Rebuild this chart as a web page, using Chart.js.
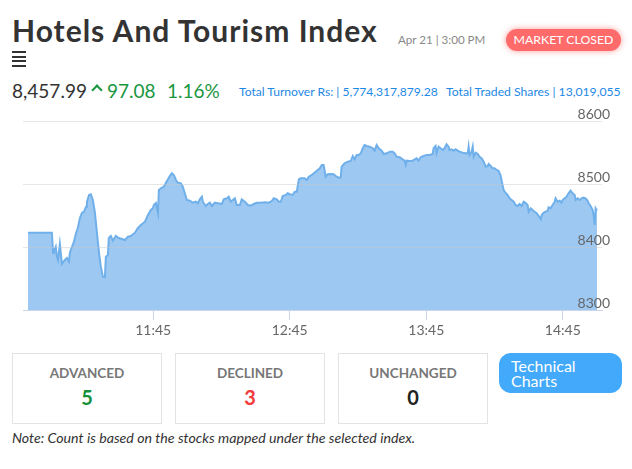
<!DOCTYPE html>
<html>
<head>
<meta charset="utf-8">
<script src="https://cdn.jsdelivr.net/npm/chart.js@4"></script>
<style>
  body { margin: 0; width: 632px; height: 469px; background: #fff; font-family: "Lato", sans-serif; position: relative; overflow: hidden; }
  .abs { position: absolute; white-space: nowrap; }
  #title { left: 12px; top: 14px; font-size: 30px; letter-spacing: 1px; line-height: 32px; font-weight: 700; color: #333; }
  #stamp { left: 398px; top: 33px; font-size: 11.6px; color: #888; }
  #status { left: 506px; top: 29px; width: 115px; height: 22px; line-height: 22px; border-radius: 11px; background: #ff6b6b; color: #fff; font-size: 12.3px; text-align: center; box-shadow: 0 0 6px rgba(255,90,90,0.6); }
  #menu { left: 12px; top: 51px; width: 14px; }
  #menu div { height: 2px; background: #333; margin-bottom: 2.5px; }
  #last { left: 12px; top: 79px; font-size: 19px; color: #333; }
  #chev { left: 93px; top: 86px; width: 6px; height: 6px; border-left: 2.5px solid #1a9641; border-top: 2.5px solid #1a9641; transform: rotate(45deg); }
  #chg { left: 107px; top: 79px; font-size: 19px; color: #1a9641; }
  #pct { left: 167px; top: 79px; font-size: 19px; color: #1a9641; }
  #turnover { left: 239px; top: 84px; font-size: 12.1px; color: #1e88e5; }
  #shares { left: 446px; top: 84px; font-size: 12.2px; color: #1e88e5; }
  #chartBox { left: 0; top: 100px; width: 632px; height: 245px; }
  .card { top: 353px; width: 150px; height: 71px; border: 1px solid #e3e3e3; box-sizing: border-box; text-align: center; }
  .card .lbl { margin-top: 11px; font-size: 13.5px; font-weight: 700; color: #777; }
  .card .num { margin-top: 4px; font-size: 20px; font-weight: 700; }
  #tech { left: 499px; top: 353px; width: 123px; height: 40px; border-radius: 12px; background: #42a9fb; color: #fff; font-size: 16px; line-height: 15px; box-sizing: border-box; padding: 5px 0 0 12px; white-space: normal; }
  #note { left: 12px; top: 429px; font-size: 14.2px; font-style: italic; color: #333; }
</style>
</head>
<body>
<div class="abs" id="title">Hotels And Tourism Index</div>
<div class="abs" id="stamp">Apr 21 | 3:00 PM</div>
<div class="abs" id="status">MARKET CLOSED</div>
<div class="abs" id="menu"><div></div><div></div><div></div><div></div></div>
<div class="abs" id="last">8,457.99</div>
<div class="abs" id="chev"></div>
<div class="abs" id="chg">97.08</div>
<div class="abs" id="pct">1.16%</div>
<div class="abs" id="turnover">Total Turnover Rs: | 5,774,317,879.28</div>
<div class="abs" id="shares">Total Traded Shares | 13,019,055</div>
<div class="abs" id="chartBox"><canvas id="lineChart" width="632" height="245"></canvas></div>
<div id="cards"></div>
<div class="abs" id="tech">Technical<br>Charts</div>
<div class="abs" id="note">Note: Count is based on the stocks mapped under the selected index.</div>

<script>
// minutes after 11:00 (negative = pre-open)
const tradeMinutes = [-10.0, 0.5, 1.0, 1.4, 2.2, 2.7, 3.2, 4.0, 4.9, 6.2, 7.1, 8.0, 8.4, 9.3, 10.2, 11.1, 11.9, 12.8, 13.7, 14.6,
  15.5, 15.9, 16.8, 17.6, 18.5, 19.4, 20.3, 21.2, 22.0, 22.9, 23.8, 24.2, 25.1, 25.5, 26.4, 27.3, 28.6, 29.9, 31.3, 32.6,
  33.9, 35.2, 37.0, 38.3, 39.6, 41.4, 42.7, 44.0, 44.9, 45.3, 46.2, 47.1, 47.5, 48.4, 49.7, 50.6, 51.5, 52.3, 53.2, 54.1,
  55.0, 55.8, 57.2, 58.0, 58.9, 59.8, 61.1, 62.4, 63.7, 64.6, 65.5, 66.4, 66.8, 68.1, 69.0, 69.9, 70.8, 72.1, 73.4, 75.2,
  76.0, 77.4, 78.2, 79.1, 80.0, 80.9, 81.7, 83.1, 83.9, 85.3, 86.6, 87.9, 89.2, 90.5, 92.3, 94.0, 95.8, 97.1, 98.0, 99.3,
  100.2, 101.1, 101.9, 103.3, 104.1, 105.0, 106.3, 107.2, 108.1, 109.0, 109.8, 111.6, 112.5, 113.4, 114.7, 115.6, 116.4, 117.3, 118.2, 119.1,
  119.9, 120.8, 121.7, 123.0, 124.3, 125.6, 126.5, 127.4, 127.8, 129.1, 130.5, 131.8, 132.7, 133.5, 134.4, 135.3, 136.2, 137.1, 137.9, 138.8,
  140.1, 141.5, 142.3, 143.2, 144.1, 145.4, 146.3, 147.6, 149.0, 150.3, 151.1, 152.0, 153.3, 154.6, 155.5, 156.0, 156.4, 157.7, 159.0, 159.9,
  160.8, 161.6, 162.5, 163.8, 165.2, 166.5, 167.8, 168.2, 169.1, 169.5, 170.4, 171.3, 172.2, 173.0, 173.9, 174.8, 175.2, 176.1, 177.0, 177.9,
  178.8, 179.6, 181.0, 182.3, 183.2, 183.6, 184.0, 184.9, 185.4, 185.8, 186.7, 187.6, 188.4, 189.3, 190.2, 191.1, 192.0, 192.4, 193.3, 194.1,
  195.0, 195.9, 196.8, 197.6, 198.5, 199.0, 199.8, 200.7, 201.6, 202.5, 203.4, 204.2, 205.1, 206.0, 206.9, 207.8, 208.6, 209.5, 210.0, 210.9,
  211.7, 212.6, 213.5, 214.8, 215.3, 215.7, 216.6, 217.5, 218.3, 218.7, 219.6, 220.5, 221.4, 221.8, 222.7, 223.6, 224.4, 224.9, 225.8, 226.6,
  227.5, 228.4, 229.3, 230.2, 230.6, 231.5, 232.4, 233.2, 234.1, 235.0, 235.9, 236.3, 237.2, 238.1, 238.5, 239.0, 239.4, 240.0];

const indexValues = [8422.7, 8422.7, 8390.5, 8393.7, 8400.5, 8384.6, 8379.4, 8404.8, 8373.1, 8379.4, 8382.6, 8376.7, 8391.0, 8400.0, 8408.4, 8422.3, 8430.2, 8446.1, 8454.0, 8456.1,
  8464.0, 8471.9, 8482.6, 8483.7, 8474.6, 8454.0, 8422.3, 8390.5, 8368.8, 8352.9, 8352.4, 8384.6, 8387.3, 8414.3, 8417.5, 8410.0, 8417.5, 8414.3, 8412.7, 8411.1,
  8416.4, 8417.5, 8422.7, 8430.2, 8434.9, 8440.2, 8450.8, 8458.8, 8461.9, 8466.7, 8469.9, 8454.0, 8490.5, 8493.2, 8495.7, 8502.1, 8507.5, 8512.7, 8517.0, 8514.3,
  8506.4, 8502.1, 8501.1, 8495.7, 8485.3, 8474.6, 8473.5, 8470.3, 8471.9, 8469.4, 8475.7, 8479.9, 8471.9, 8465.1, 8468.3, 8470.3, 8465.1, 8470.3, 8469.4, 8468.3,
  8475.7, 8477.3, 8479.9, 8471.9, 8474.6, 8477.3, 8466.7, 8466.7, 8475.7, 8471.9, 8466.7, 8465.6, 8468.3, 8470.3, 8470.3, 8471.0, 8470.3, 8473.0, 8477.3, 8475.7,
  8471.9, 8471.9, 8481.0, 8482.6, 8485.3, 8483.7, 8482.6, 8487.8, 8487.8, 8507.5, 8509.1, 8509.1, 8506.4, 8511.6, 8514.3, 8517.0, 8519.5, 8522.2, 8524.9, 8530.2,
  8530.2, 8511.6, 8515.4, 8515.9, 8515.4, 8511.6, 8510.0, 8510.6, 8527.5, 8532.9, 8535.4, 8536.5, 8544.5, 8539.2, 8546.0, 8546.0, 8548.7, 8556.7, 8561.9, 8560.3,
  8559.2, 8556.7, 8552.9, 8561.9, 8556.7, 8552.9, 8547.6, 8548.7, 8551.3, 8551.3, 8548.7, 8543.3, 8542.4, 8539.2, 8537.0, 8530.2, 8537.0, 8536.5, 8537.0, 8539.2,
  8540.8, 8537.0, 8542.4, 8544.5, 8546.0, 8546.0, 8547.6, 8556.7, 8560.3, 8548.7, 8559.2, 8556.7, 8554.0, 8556.7, 8563.0, 8559.2, 8554.0, 8555.1, 8552.9, 8555.1,
  8552.9, 8551.3, 8549.7, 8548.7, 8548.7, 8559.2, 8546.0, 8551.3, 8559.2, 8543.3, 8549.7, 8547.6, 8543.3, 8540.8, 8535.4, 8527.5, 8528.6, 8531.8, 8528.6, 8524.9,
  8524.9, 8522.2, 8520.7, 8514.3, 8498.4, 8490.5, 8486.2, 8482.6, 8477.3, 8474.6, 8471.9, 8466.7, 8465.1, 8468.3, 8465.1, 8471.9, 8470.3, 8466.7, 8456.1, 8461.5,
  8458.8, 8456.1, 8453.5, 8447.2, 8444.0, 8450.8, 8454.5, 8456.1, 8457.6, 8463.0, 8461.5, 8466.7, 8471.9, 8477.3, 8471.9, 8473.5, 8470.3, 8474.6, 8477.3, 8479.9,
  8485.3, 8489.4, 8485.3, 8482.6, 8474.6, 8477.3, 8474.6, 8477.3, 8478.3, 8477.3, 8473.5, 8469.4, 8465.1, 8458.8, 8450.8, 8434.9, 8461.5, 8457.99];

const timeTicks = ["11:45", "12:45", "13:45", "14:45"];
const yMin = 8300, yMax = 8600, yStep = 100;

const breadthLabels = ["ADVANCED", "DECLINED", "UNCHANGED"];
const breadthCounts = [5, 3, 0];
const breadthColors = ["#14913a", "#f23b3b", "#222"];

// stat cards
const cards = document.getElementById("cards");
const cardLeft = [12, 175, 338];
breadthLabels.forEach((lbl, i) => {
  const c = document.createElement("div");
  c.className = "abs card";
  c.style.left = cardLeft[i] + "px";
  c.innerHTML = '<div class="lbl">' + lbl + '</div><div class="num" style="color:' + breadthColors[i] + '">' + breadthCounts[i] + '</div>';
  cards.appendChild(c);
});

function toMinutes(hhmm) {
  const p = hhmm.split(":");
  return (+p[0] - 11) * 60 + (+p[1]);
}
function toLabel(m) {
  const h = 11 + Math.floor(m / 60), mm = Math.round(m % 60);
  return h + ":" + String(mm).padStart(2, "0");
}

const ctx = document.getElementById("lineChart").getContext("2d");
new Chart(ctx, {
  type: "line",
  data: {
    datasets: [{
      data: tradeMinutes.map((t, i) => ({ x: t, y: indexValues[i] })),
      borderColor: "#70b0ea",
      backgroundColor: "rgba(124,181,236,0.75)",
      borderWidth: 2,
      pointRadius: 0,
      tension: 0,
      fill: "start"
    }]
  },
  options: {
    responsive: false,
    animation: false,
    layout: { padding: { left: 23, right: 30, top: 21, bottom: 0 } },
    plugins: { legend: { display: false }, tooltip: { enabled: false } },
    scales: {
      x: {
        type: "linear",
        min: -12.2,
        max: 242.2,
        afterBuildTicks: scale => { scale.ticks = timeTicks.map(t => ({ value: toMinutes(t) })); },
        afterFit: scale => { scale.height = 35; },
        grid: { drawOnChartArea: false, drawTicks: true, tickLength: 10, color: "#ccd6eb" },
        border: { display: true, color: "#ccd6eb", z: 2 },
        ticks: { color: "#666", font: { family: "Lato", size: 14 }, padding: 2, maxRotation: 0, callback: v => toLabel(v) }
      },
      y: {
        position: "right",
        min: yMin,
        max: yMax,
        afterFit: scale => { scale.width = 0; },
        grid: { color: "rgba(200,200,200,0.45)", drawTicks: false, z: 1 },
        border: { display: false },
        ticks: { z: 1, stepSize: yStep, mirror: true, padding: 8, labelOffset: -7, color: "#666", font: { family: "Lato", size: 14 }, callback: v => String(v) }
      }
    }
  }
});
</script>
</body>
</html>
